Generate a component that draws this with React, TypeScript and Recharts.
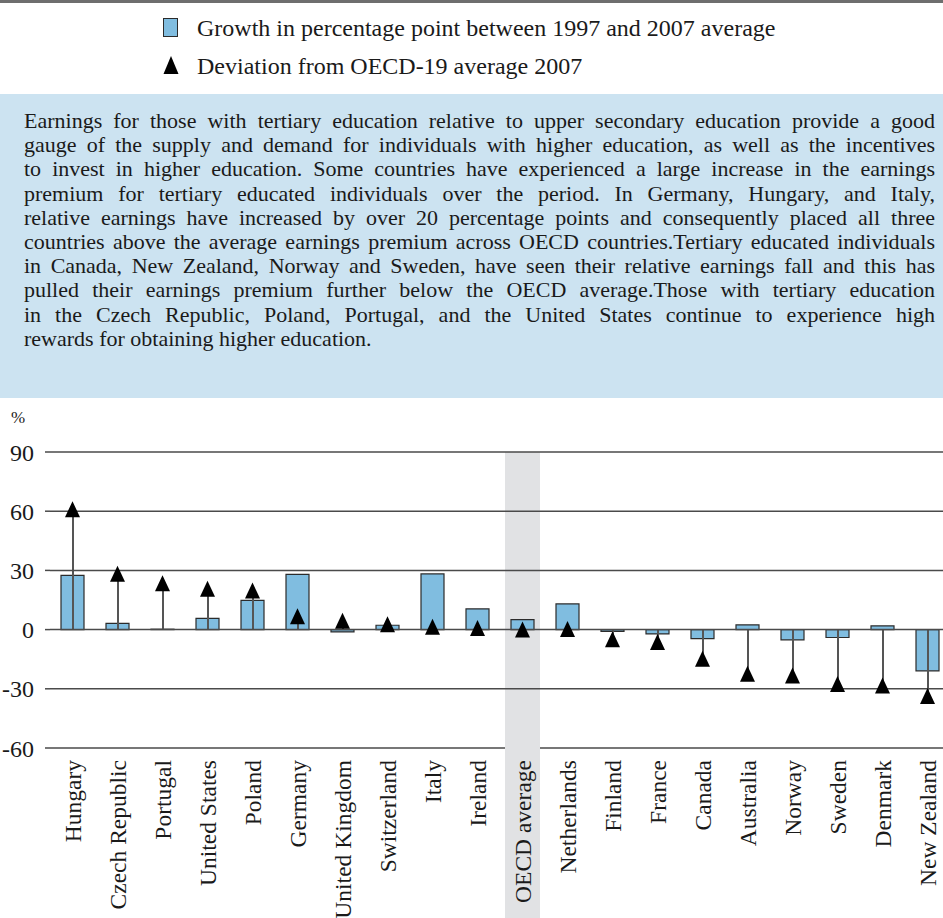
import React from "react";
import {
  ComposedChart,
  Bar,
  Scatter,
  XAxis,
  YAxis,
  ReferenceLine,
} from "recharts";

const countries = [
  "Hungary",
  "Czech Republic",
  "Portugal",
  "United States",
  "Poland",
  "Germany",
  "United Kingdom",
  "Switzerland",
  "Italy",
  "Ireland",
  "OECD average",
  "Netherlands",
  "Finland",
  "France",
  "Canada",
  "Australia",
  "Norway",
  "Sweden",
  "Denmark",
  "New Zealand",
];

// growth in percentage points, 1997 -> 2007
const growth = [
  27.5, 3.2, 0.2, 5.7, 14.8, 28, -1.2, 2.2, 28.2, 10.5, 5.1, 13, -0.9, -2.2,
  -4.6, 2.4, -5.2, -4, 1.9, -20.9,
];

// deviation from OECD-19 average, 2007
const deviation = [
  61, 28.3, 23.5, 20.7, 19.8, 6.8, 4.5, 2.7, 1.5, 0.8, 0, 0.3, -4.9, -6.3,
  -14.8, -22.4, -23.3, -27.6, -28.3, -33.6,
];

const yTicks = [-60, -30, 0, 30, 60, 90];

const HIGHLIGHT = "OECD average";

const paragraph = [
  "Earnings for those with tertiary education relative to upper secondary education provide a good",
  "gauge of the supply and demand for individuals with higher education, as well as the incentives",
  "to invest in higher education. Some countries have experienced a large increase in the earnings",
  "premium for tertiary educated individuals over the period. In Germany, Hungary, and Italy,",
  "relative earnings have increased by over 20 percentage points and consequently placed all three",
  "countries above the average earnings premium across OECD countries.Tertiary educated individuals",
  "in Canada, New Zealand, Norway and Sweden, have seen their relative earnings fall and this has",
  "pulled their earnings premium further below the OECD average.Those with tertiary education",
  "in the Czech Republic, Poland, Portugal, and the United States continue to experience high",
  "rewards for obtaining higher education.",
];

const data = countries.map((country, i) => ({
  country,
  growth: growth[i],
  dev: deviation[i],
  stem: [0, deviation[i]],
  band: country === HIGHLIGHT ? [yTicks[0], yTicks[yTicks.length - 1]] : null,
}));

const FONT = '"Liberation Serif", "DejaVu Serif", serif';
const BAR_FILL = "#80bde0";
const BAR_STROKE = "#2b2b2b";
const BAND_FILL = "#e1e2e4";
const GRID = "#4a4a4a";
const LABEL_GAP = 12;

function CountryTick(props: any) {
  const { x, y, payload } = props;
  const isAvg = payload.value === HIGHLIGHT;
  return (
    <g>
      {isAvg && (
        <rect
          x={x - 17.5}
          y={y - LABEL_GAP - 1}
          width={35}
          height={220}
          fill={BAND_FILL}
        />
      )}
      <text
        x={x}
        y={y}
        transform={`rotate(-90 ${x} ${y})`}
        textAnchor="end"
        dominantBaseline="central"
        fontSize={23.5}
        fontFamily={FONT}
        fill="#1a1a1a"
      >
        {payload.value}
      </text>
    </g>
  );
}

function Triangle(props: any) {
  const { cx, cy } = props;
  if (cx == null || cy == null) return null;
  const w = 15;
  const h = 16;
  return (
    <path
      d={`M${cx} ${cy - h / 2} L${cx + w / 2} ${cy + h / 2} L${cx - w / 2} ${
        cy + h / 2
      } Z`}
      fill="#000"
    />
  );
}

const textStyle = {
  fontFamily: FONT,
  whiteSpace: "nowrap" as const,
};

export default function App() {
  return (
    <div
      style={{
        position: "absolute",
        left: 0,
        top: 0,
        width: 943,
        height: 918,
        overflow: "hidden",
        background: "#fff",
        fontFamily: FONT,
        color: "#1a1a1a",
      }}
    >
      <div
        style={{
          position: "absolute",
          left: 0,
          top: 0,
          width: 943,
          height: 3,
          background: "#6e6e6e",
        }}
      />

      {/* legend */}
      <div
        style={{
          position: "absolute",
          left: 163,
          top: 18,
          width: 13,
          height: 17,
          background: BAR_FILL,
          border: `1px solid ${BAR_STROKE}`,
        }}
      />
      <div
        style={{
          ...textStyle,
          position: "absolute",
          left: 197,
          top: 13,
          fontSize: 24,
          lineHeight: "30px",
        }}
      >
        Growth in percentage point between 1997 and 2007 average
      </div>
      <svg
        style={{ position: "absolute", left: 163, top: 55 }}
        width={16}
        height={20}
      >
        <path d="M8 1 L15.5 19 L0.5 19 Z" fill="#000" />
      </svg>
      <div
        style={{
          ...textStyle,
          position: "absolute",
          left: 197,
          top: 51,
          fontSize: 24,
          lineHeight: "30px",
        }}
      >
        Deviation from OECD-19 average 2007
      </div>

      {/* text box */}
      <div
        style={{
          position: "absolute",
          left: 0,
          top: 94,
          width: 943,
          height: 304,
          background: "#cce3f1",
          boxSizing: "border-box",
          padding: "15px 8px 0 24px",
          fontSize: 22,
          lineHeight: "24.2px",
        }}
      >
        {paragraph.map((line, i) => (
          <div
            key={i}
            style={{
              ...textStyle,
              textAlign: "justify",
              textAlignLast: i === paragraph.length - 1 ? "left" : "justify",
            }}
          >
            {line}
          </div>
        ))}
      </div>

      <div
        style={{
          ...textStyle,
          position: "absolute",
          left: 11,
          top: 408,
          fontSize: 17,
          lineHeight: "20px",
        }}
      >
        %
      </div>

      <div style={{ position: "absolute", left: 0, top: 400 }}>
        <ComposedChart
          width={950}
          height={518}
          data={data}
          margin={{ top: 52, right: 0, bottom: 0, left: 0 }}
          barGap={0}
        >
          <XAxis
            dataKey="country"
            type="category"
            interval={0}
            height={170}
            axisLine={false}
            tickLine={false}
            tickSize={0}
            tickMargin={LABEL_GAP}
            tick={<CountryTick />}
          />
          <XAxis xAxisId="band" dataKey="country" hide />
          <XAxis xAxisId="stem" dataKey="country" hide />
          <YAxis
            type="number"
            domain={[-60, 90]}
            ticks={yTicks}
            allowDataOverflow
            width={50}
            axisLine={false}
            tickSize={5}
            tickMargin={11}
            tickLine={{ stroke: GRID, strokeWidth: 1.5 }}
            tick={{ fontSize: 24, fill: "#1a1a1a", fontFamily: FONT }}
          />
          <Bar
            xAxisId="band"
            dataKey="band"
            barSize={35}
            fill={BAND_FILL}
            isAnimationActive={false}
          />
          {yTicks.map((t) => (
            <ReferenceLine
              key={t}
              y={t}
              stroke={GRID}
              strokeWidth={1.5}
            />
          ))}
          <Bar
            dataKey="growth"
            barSize={23}
            fill={BAR_FILL}
            stroke={BAR_STROKE}
            strokeWidth={1.2}
            isAnimationActive={false}
          />
          <Bar
            xAxisId="stem"
            dataKey="stem"
            barSize={2}
            fill="#555"
            isAnimationActive={false}
          />
          <Scatter
            dataKey="dev"
            shape={<Triangle />}
            isAnimationActive={false}
          />
        </ComposedChart>
      </div>
    </div>
  );
}
